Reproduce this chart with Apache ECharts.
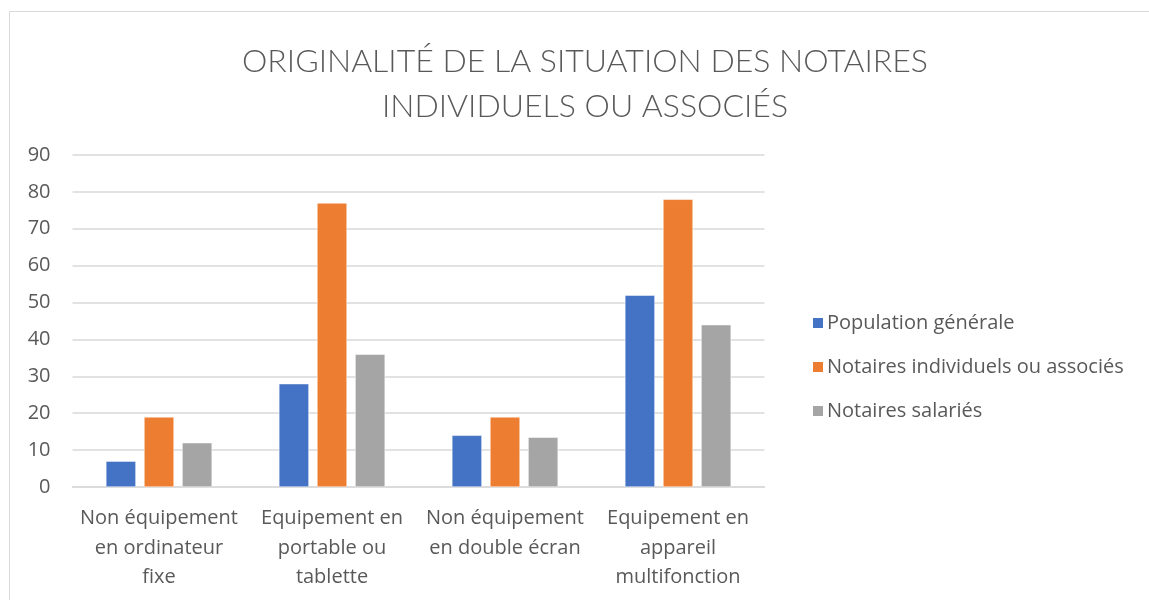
<!DOCTYPE html>
<html lang="fr">
<head>
<meta charset="UTF-8">
<title>Originalité de la situation des notaires</title>
<script src="https://cdn.jsdelivr.net/npm/echarts@6/dist/echarts.min.js"></script>
<style>
  html, body { margin: 0; padding: 0; background: #fff; }
  #chart { width: 1149px; height: 600px; }
</style>
</head>
<body>
<div id="chart"></div>
<script>
var categories = [
    'Non équipement\nen ordinateur\nfixe',
    'Equipement en\nportable ou\ntablette',
    'Non équipement\nen double écran',
    'Equipement en\nappareil\nmultifonction'
];
var seriesNames = ['Population générale', 'Notaires individuels ou associés', 'Notaires salariés'];
var populationGenerale = [7, 28, 14, 52];
var notairesAssocies = [19, 77, 19, 78];
var notairesSalaries = [12, 36, 13.5, 44];
var colors = ['#4472C4', '#ED7D31', '#A5A5A5'];

var font = '"Open Sans", Lato, sans-serif';
var titleFont = 'Lato, "Open Sans", sans-serif';
var txt = '#595959';

var chart = echarts.init(document.getElementById('chart'));

function bar(name, data, i) {
    return {
        name: name,
        type: 'bar',
        data: data,
        barWidth: 30,
        barGap: '27%',
        itemStyle: { color: colors[i], borderColor: '#fff', borderWidth: 0.5 }
    };
}

var option = {
    animation: false,
    color: colors,
    graphic: [{
        type: 'rect',
        shape: { x: 9.5, y: 11.5, width: 1200, height: 700 },
        style: { fill: 'none', stroke: '#d9d9d9', lineWidth: 1 }
    }],
    title: {
        text: 'ORIGINALITÉ DE LA SITUATION DES NOTAIRES\nINDIVIDUELS OU ASSOCIÉS',
        left: 580,
        textAlign: 'center',
        top: 34,
        textStyle: {
            fontFamily: titleFont,
            fontWeight: 300,
            fontSize: 32,
            color: txt,
            lineHeight: 45
        }
    },
    legend: {
        orient: 'vertical',
        left: 806,
        top: 308,
        itemWidth: 12,
        itemHeight: 12,
        itemGap: 24,
        icon: 'rect',
        data: seriesNames,
        textStyle: { fontFamily: font, fontSize: 20, color: txt, padding: [0, 0, 0, -2] }
    },
    grid: { left: 72.5, right: 384.5, top: 155, bottom: 113 },
    xAxis: {
        type: 'category',
        data: categories,
        axisLine: { lineStyle: { color: '#d9d9d9', width: 1.5 } },
        axisTick: { show: false },
        axisLabel: {
            interval: 0,
            margin: 17,
            fontFamily: font,
            fontSize: 20,
            color: txt,
            lineHeight: 29.5
        }
    },
    yAxis: {
        type: 'value',
        min: 0,
        max: 90,
        interval: 10,
        axisLine: { show: false },
        axisTick: { show: false },
        splitLine: { lineStyle: { color: '#d9d9d9', width: 1.5 } },
        axisLabel: { fontFamily: font, fontSize: 20, color: txt, margin: 22 }
    },
    series: [
        bar(seriesNames[0], populationGenerale, 0),
        bar(seriesNames[1], notairesAssocies, 1),
        bar(seriesNames[2], notairesSalaries, 2)
    ]
};
chart.setOption(option);
</script>
</body>
</html>
